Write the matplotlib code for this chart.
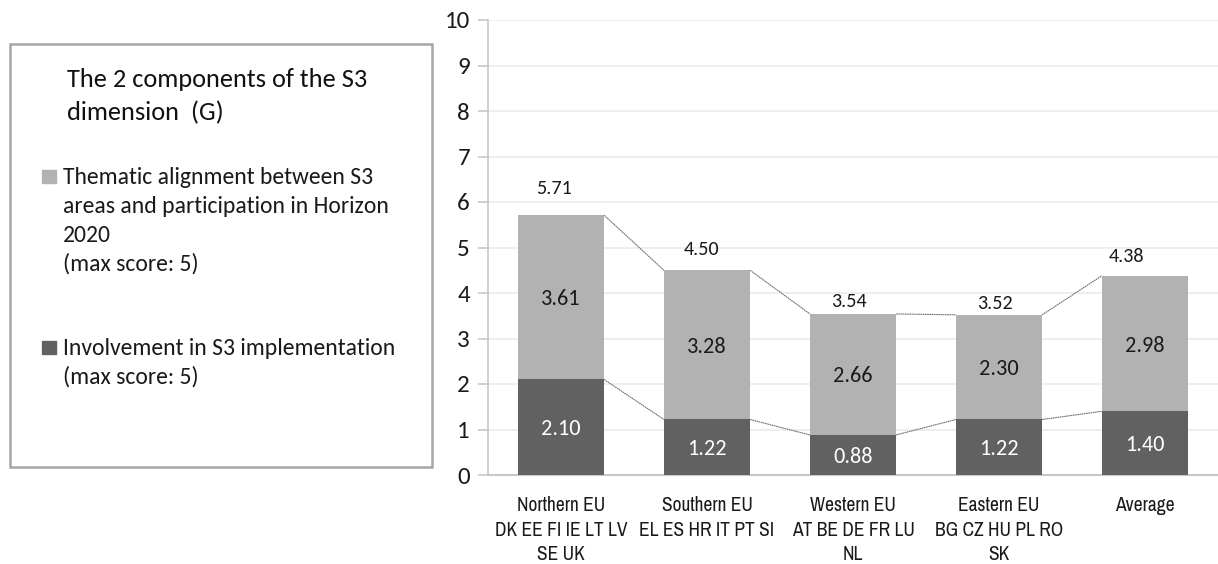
import matplotlib.pyplot as plt
from matplotlib.patches import Rectangle
import numpy as np

plt.rcParams['font.family'] = ['Carlito', 'Lato', 'DejaVu Sans']
narrow = ['Archivo Narrow', 'Liberation Sans Narrow', 'DejaVu Sans']

## Data
regions = ['Northern EU', 'Southern EU', 'Western EU', 'Eastern EU', 'Average']
members = ['DK EE FI IE LT LV\nSE UK', 'EL ES HR IT PT SI', 'AT BE DE FR LU\nNL',
           'BG CZ HU PL RO\nSK', '']
involvement = [2.10, 1.22, 0.88, 1.22, 1.40]
thematic    = [3.61, 3.28, 2.66, 2.30, 2.98]
totals      = [5.71, 4.50, 3.54, 3.52, 4.38]

# label placement of the totals (pixels above bar top, x shift in bar units)
top_dy = [28, 22, 14, 13, 21]
top_dx = [-0.05, -0.04, -0.03, -0.03, -0.13]

light = '#b2b2b2'
dark  = '#616161'
W, H = 1218, 564

fig = plt.figure(figsize=(W/100, H/100), dpi=100)
ax = fig.add_axes([488/W, 1 - 475/H, 730/W, 455/H])
ppu = 455/10  # pixels per y unit

x = np.arange(len(regions))
w = 0.59
ax.bar(x, involvement, w, color=dark, zorder=3)
ax.bar(x, thematic, w, bottom=involvement, color=light, zorder=3)

# series lines between bars
for i in range(len(x) - 1):
    for ys in (involvement, totals):
        ax.plot([x[i] + w/2, x[i+1] - w/2], [ys[i], ys[i+1]],
                color='#6f6f6f', lw=0.8, ls=(0, (1.5, 0.5)), zorder=2)

for i in range(len(x)):
    ax.text(x[i], involvement[i]/2, f'{involvement[i]:.2f}', ha='center',
            va='center_baseline', color='white', fontsize=16, zorder=4)
    ax.text(x[i], involvement[i] + thematic[i]/2, f'{thematic[i]:.2f}', ha='center',
            va='center_baseline', color='#1a1a1a', fontsize=16, zorder=4)
    ax.text(x[i] + top_dx[i], totals[i] + top_dy[i]/ppu, f'{totals[i]:.2f}',
            ha='center', va='center_baseline', color='#1a1a1a', fontsize=14.5, zorder=4)

ax.set_xlim(-0.5, len(x) - 0.5)
ax.set_ylim(0, 10)
ax.set_yticks(range(0, 11))
ax.yaxis.grid(True, color='#ebebeb', lw=1.2, zorder=0)
ax.set_xticks(x)
ax.set_xticklabels([r + '\n' + m if m else r for r, m in zip(regions, members)],
                   fontsize=14, linespacing=1.38, color='#1a1a1a', family=narrow)
ax.tick_params(axis='x', length=0, pad=15)
ax.tick_params(axis='y', labelsize=18, length=7, width=1.2, color='#c8c8c8',
               labelcolor='#1a1a1a', pad=6)
for s in ['top', 'right']:
    ax.spines[s].set_visible(False)
ax.spines['left'].set_color('#c8c8c8')
ax.spines['left'].set_linewidth(1.2)
ax.spines['bottom'].set_color('#c8c8c8')
ax.spines['bottom'].set_linewidth(1.5)

## Legend box
def fx(px):
    return px / W

def fy(py):
    return 1 - py / H

fig.patches.append(Rectangle((fx(10), fy(467)), 422/W, 423/H, transform=fig.transFigure,
                             fill=False, edgecolor='#a6a6a6', lw=1.8))
title_lines = ['The 2 components of the S3', 'dimension  (G)']
for k, t in enumerate(title_lines):
    fig.text(fx(67), fy(87 + 33*k), t, fontsize=19, va='baseline', ha='left', color='#111111')

item1 = ['Thematic alignment between S3', 'areas and participation in Horizon', '2020',
         '(max score: 5)']
item2 = ['Involvement in S3 implementation', '(max score: 5)']
for color, lines, base in [(light, item1, 184), (dark, item2, 355)]:
    fig.patches.append(Rectangle((fx(42), fy(base - 1)), 14/W, 13/H,
                                 transform=fig.transFigure, color=color))
    for k, t in enumerate(lines):
        fig.text(fx(63), fy(base + 29*k), t, fontsize=17, va='baseline', ha='left',
                 color='#1a1a1a')

fig.savefig('out.png', dpi=100)
